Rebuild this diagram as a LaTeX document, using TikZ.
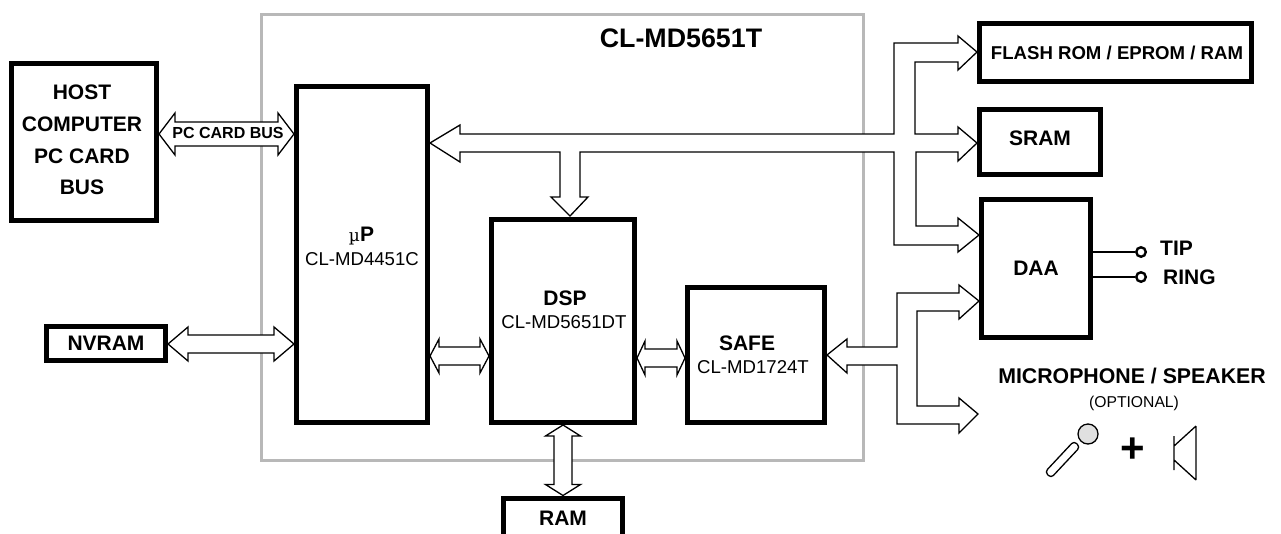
\documentclass[tikz,border=0pt]{standalone}
\usepackage{fontspec}
\setmainfont{Liberation Sans}
\usetikzlibrary{calc}
\newcommand\fs[1]{\fontsize{#1}{#1}\selectfont}
\tikzset{
  box/.style={draw=black,fill=white,line width=5pt,inner sep=0pt,align=center,font=\bfseries\fs{21}},
  bus/.style={draw=black,fill=white,line width=1.3pt,line join=miter},
  lab/.style={inner sep=0pt,align=center},
  blab/.style={lab,font=\bfseries\fs{21}},
  rlab/.style={lab,font=\fs{18.6}},
  gframe/.style={draw=black!28,line width=3pt,fill=white},
  wire/.style={draw=black,line width=1.8pt},
  term/.style={circle,draw=black,fill=white,line width=2.4pt,minimum size=9.5pt,inner sep=0pt},
}
% horizontal double arrow between two named points
\newcommand\busH[5]{\draw[bus] (#1) -- ($(#1)+(#3,-#4)$) -- ($(#1)+(#3,-#5)$) -- ($(#2)+(-#3,-#5)$) -- ($(#2)+(-#3,-#4)$) -- (#2) -- ($(#2)+(-#3,#4)$) -- ($(#2)+(-#3,#5)$) -- ($(#1)+(#3,#5)$) -- ($(#1)+(#3,#4)$) -- cycle;}
\newcommand\busV[5]{\draw[bus] (#1) -- ($(#1)+(-#4,#3)$) -- ($(#1)+(-#5,#3)$) -- ($(#2)+(-#5,-#3)$) -- ($(#2)+(-#4,-#3)$) -- (#2) -- ($(#2)+(#4,-#3)$) -- ($(#2)+(#5,-#3)$) -- ($(#1)+(#5,#3)$) -- ($(#1)+(#4,#3)$) -- cycle;}
\begin{document}
\begin{tikzpicture}[x=1pt,y=-1pt]
\useasboundingbox (0,0) rectangle (1281,533);
\fill[white] (0,0) rectangle (1281,533);
\node[gframe,minimum width=602pt,minimum height=446pt,inner sep=0pt] (frame) at (562,237.5) {};
\node[lab,font=\bfseries\fs{26.8}] (title) at (681,38) {CL-MD5651T};

\node[box,minimum width=145pt,minimum height=157pt] (host) at (84,142) {};
\node[blab] (h1) at (82,92) {HOST};
\node[blab] (h2) at (82,124) {COMPUTER};
\node[blab] (h3) at (82,156) {PC CARD};
\node[blab] (h4) at (82,187) {BUS};
\node[box,minimum width=131pt,minimum height=336pt] (up) at (362,254) {};
\node[box,minimum width=143pt,minimum height=203pt] (dsp) at (563,321) {};
\node[box,minimum width=137pt,minimum height=135pt] (safe) at (756,355) {};
\node[box,minimum width=272pt,minimum height=58pt] (flash) at (1115.5,52.5) {};
\node[lab,font=\bfseries\fs{18.6}] (flashl) at (1117,53) {FLASH ROM / EPROM / RAM};
\node[box,minimum width=121pt,minimum height=65pt] (sram) at (1040,142) {};
\node[blab] (sraml) at (1040,138) {SRAM};
\node[box,minimum width=109pt,minimum height=138pt] (daa) at (1036,268.5) {DAA};
\node[box,minimum width=119pt,minimum height=34pt] (nvram) at (106,343.5) {NVRAM};
\node[box,minimum width=119pt,minimum height=40pt] (ram) at (563,518) {RAM};

\node[lab,font=\fs{21},anchor=base] (upl) at (361.5,241) {{\fontspec{DejaVu Serif}\fs{17}µ}\textbf{P}};
\node[rlab] (upm) at (362,259) {CL-MD4451C};
\node[blab] (dspl) at (565,298) {DSP};
\node[rlab] (dspm) at (564,322) {CL-MD5651DT};
\node[blab] (safel) at (747,343) {SAFE};
\node[rlab] (safem) at (753,367) {CL-MD1724T};

% PC CARD BUS
\coordinate (a1) at (host.east |- 0,134);
\coordinate (a2) at (up.west |- 0,134);
\busH{a1}{a2}{16}{21}{12}
\node[lab,font=\bfseries\fs{16}] (pcb) at (228,133) {PC CARD BUS};
% NVRAM
\coordinate (b1) at (nvram.east |- 0,344);
\coordinate (b2) at (up.west |- 0,344);
\busH{b1}{b2}{20}{17}{9}
% uP-DSP, DSP-SAFE
\coordinate (c1) at (up.east |- 0,356);
\coordinate (c2) at (dsp.west |- 0,356);
\busH{c1}{c2}{9}{17}{9}
\coordinate (d1) at (dsp.east |- 0,358);
\coordinate (d2) at (safe.west |- 0,358);
\busH{d1}{d2}{8}{17}{9}
% DSP-RAM
\coordinate (e1) at (dsp.south);
\coordinate (e2) at (ram.north);
\busV{e1}{e2}{11}{17.5}{9}

% main bus
\coordinate (m0) at (up.east |- 0,143);
\coordinate (m1) at (flash.west |- 0,52);
\coordinate (m2) at (sram.west |- 0,143);
\coordinate (m3) at (daa.west |- 0,235);
\coordinate (m4) at (570,216);
\draw[bus] (m0) -- (460,125) -- (460,134) -- (894,134) -- (894,43) -- (958,43) -- (958,36) -- (m1)
 -- (958,70) -- (958,62) -- (915,62) -- (915,134) -- (958,134) -- (958,127) -- (m2)
 -- (958,161) -- (958,152) -- (916,152) -- (916,226) -- (958,226) -- (958,218) -- (m3)
 -- (958,252) -- (958,245) -- (894,245) -- (894,152) -- (580,152) -- (580,197) -- (588,197) -- (m4)
 -- (551,197) -- (560,197) -- (560,152) -- (460,152) -- (460,162) -- cycle;
% safe bus
\coordinate (s0) at (safe.east |- 0,355);
\coordinate (s1) at (daa.west |- 0,301);
\coordinate (s2) at (978,414);
\draw[bus] (s0) -- (847,339) -- (847,347) -- (897,347) -- (897,293) -- (959,293) -- (959,285) -- (s1)
 -- (959,319) -- (959,311) -- (917,311) -- (917,406) -- (959,406) -- (959,398) -- (s2)
 -- (959,433) -- (959,424) -- (897,424) -- (897,365) -- (847,365) -- (847,373) -- cycle;

% tip / ring
\node[term] (tip) at (1141,252) {};
\node[term] (ring) at (1141,277) {};
\draw[wire] (daa.east |- tip) -- (tip);
\draw[wire] (daa.east |- ring) -- (ring);
\node[blab,anchor=west] (tipl) at (1160,248) {TIP};
\node[blab,anchor=west] (ringl) at (1163,277) {RING};

\node[lab,font=\bfseries\fs{21.3}] (mic) at (1132,376) {MICROPHONE / SPEAKER};
\node[lab,font=\fs{15.7}] (opt) at (1134,403) {(OPTIONAL)};
\node[lab,font=\bfseries\fs{42}] (plus) at (1133,450) {+};
% microphone
\draw[line width=1.3pt,fill=white,rounded corners=3.5pt] (1045,472) -- (1074,441) -- (1080,447) -- (1051,478) -- cycle;
\draw[line width=1.3pt,fill=black!12] (1088,434) circle (10);
% speaker
\draw[line width=1.3pt] (1174,436) -- (1174,470) (1196,426) -- (1196,480) (1174,446) -- (1196,426) (1174,460) -- (1196,480);
\end{tikzpicture}
\end{document}
